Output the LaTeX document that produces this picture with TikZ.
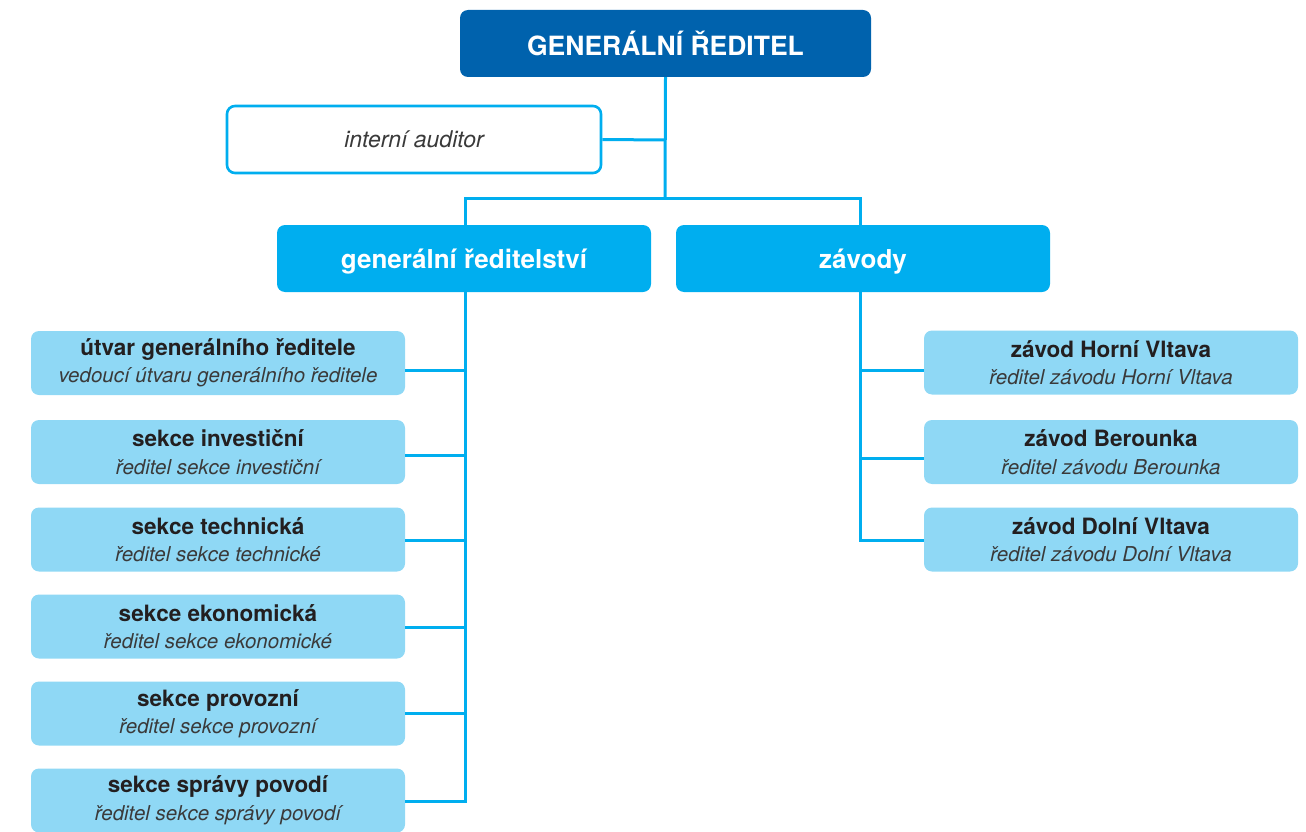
\documentclass[tikz,border=0pt]{standalone}
\usepackage{fontspec}
\setmainfont{TeX Gyre Heros}
\definecolor{darkblue}{HTML}{0062AD}
\definecolor{cyanb}{HTML}{00AEEF}
\definecolor{lightb}{HTML}{8FD8F5}
\definecolor{txt}{HTML}{231F20}
\definecolor{gtxt}{HTML}{3A3A3A}
\begin{document}
\begin{tikzpicture}[x=1pt,y=-1pt,
  base/.style={rounded corners=8pt,inner sep=0pt,align=center},
  topbox/.style={base,fill=darkblue,text=white,minimum width=411pt,minimum height=67pt,font=\fontsize{26.5}{30}\selectfont\bfseries},
  audbox/.style={base,draw=cyanb,line width=2.6pt,fill=white,text=gtxt,minimum width=374pt,minimum height=67pt,font=\fontsize{23}{27}\selectfont\itshape},
  midbox/.style={base,fill=cyanb,text=white,minimum width=374pt,minimum height=67pt,text height=20pt,text depth=1pt,font=\fontsize{26}{30}\selectfont\bfseries},
  subbox/.style={base,fill=lightb,text=txt,minimum width=374pt,minimum height=64pt,font=\fontsize{22.5}{26}\selectfont\bfseries},
  conn/.style={draw=cyanb,line width=3pt},
]
\useasboundingbox (0,0) rectangle (1306,832);
\newcommand{\sub}[1]{\\[1.5pt]{\fontsize{20.5}{24}\selectfont\mdseries\itshape\color{gtxt}#1}}

\node[topbox] (gr) at (665.5,43.5) {GENERÁLNÍ ŘEDITEL};
\node[audbox] (aud) at (414,139.5) {interní auditor};
\node[midbox] (gs) at (464,258.5) {generální ředitelství};
\node[midbox] (zv) at (863,258.5) {závody};

\node[subbox] (s1) at (218,363) {útvar generálního ředitele\sub{vedoucí útvaru generálního ředitele}};
\node[subbox] (s2) at (218,452) {sekce investiční\sub{ředitel sekce investiční}};
\node[subbox] (s3) at (218,539.5) {sekce technická\sub{ředitel sekce technické}};
\node[subbox] (s4) at (218,626.5) {sekce ekonomická\sub{ředitel sekce ekonomické}};
\node[subbox] (s5) at (218,713.5) {sekce provozní\sub{ředitel sekce provozní}};
\node[subbox] (s6) at (218,800.5) {sekce správy povodí\sub{ředitel sekce správy povodí}};

\node[subbox] (z1) at (1111,362.5) {závod Horní Vltava\sub{ředitel závodu Horní Vltava}};
\node[subbox] (z2) at (1111,452) {závod Berounka\sub{ředitel závodu Berounka}};
\node[subbox] (z3) at (1111,539.5) {závod Dolní Vltava\sub{ředitel závodu Dolní Vltava}};

\coordinate (j1) at (665,140);
\coordinate (j2) at (665,198);
\coordinate (jl) at (465,198);
\coordinate (jr) at (860,198);

\draw[conn] (gr.south) -- (j2);
\draw[conn] (aud.east) -- (j1);
\draw[conn] (jl |- gs.north) -- (jl) -- (jr) -- (jr |- zv.north);

\draw[conn] (465,292) -- (465,801) -- (s6.east |- 0,801);
\foreach \n/\y in {s1/370,s2/455,s3/540,s4/627,s5/713}
  \draw[conn] (465,\y) -- (\n.east |- 0,\y);
\draw[conn] (860,292) -- (860,540) -- (z3.west |- 0,540);
\foreach \n/\y in {z1/370,z2/458}
  \draw[conn] (860,\y) -- (\n.west |- 0,\y);
\end{tikzpicture}
\end{document}
